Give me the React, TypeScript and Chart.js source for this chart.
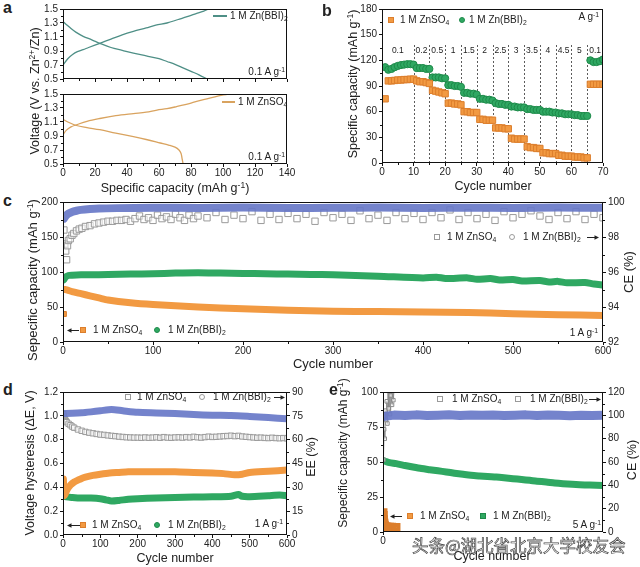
import React, { useEffect, useRef } from 'react';
import { Chart, registerables } from 'chart.js';

Chart.register(...registerables);

const FONT = 'Arial, "Liberation Sans", Helvetica, sans-serif';
const INK = '#222';
const ORANGE = '#F29A42';
const ORANGE_EDGE = '#DC7E2C';
const GREEN = '#2FA862';
const GREEN_EDGE = '#1E8A4A';
const BLUE = 'rgba(104,120,200,0.92)';
const GREY = '#9A9A9A';
const TEAL = '#4E8F86';
const TAN = '#D9A35F';

// ---------------- Panel a : charge / discharge profiles ----------------
const aBbiChargeCap = [0, 3, 6, 9, 12.6, 16, 23, 30, 37, 44, 52, 58, 65, 72, 77.6, 84, 88, 91];
const aBbiChargeV = [0.7, 0.79, 0.85, 0.89, 0.92, 0.95, 1.01, 1.07, 1.13, 1.18, 1.23, 1.27, 1.3, 1.35, 1.39, 1.44, 1.47, 1.5];
const aBbiDischargeCap = [0, 2, 5, 8, 12.6, 18, 23, 30, 37, 44, 52, 60, 65, 70, 75, 80, 85, 90];
const aBbiDischargeV = [1.32, 1.28, 1.22, 1.17, 1.11, 1.06, 1.01, 0.95, 0.91, 0.87, 0.83, 0.79, 0.75, 0.71, 0.66, 0.61, 0.56, 0.5];
const aZnChargeCap = [0, 2, 5, 8.4, 15, 23, 33, 44, 52, 58.7, 65, 71, 80, 86, 95, 103];
const aZnChargeV = [0.92, 0.98, 1.03, 1.06, 1.11, 1.15, 1.19, 1.22, 1.24, 1.27, 1.29, 1.32, 1.37, 1.41, 1.46, 1.5];
const aZnDischargeCap = [0, 3, 8.4, 15, 23, 33, 44, 52, 60.8, 66, 70, 72.5, 73.8, 74.4, 75];
const aZnDischargeV = [1.14, 1.1, 1.05, 1.02, 0.99, 0.94, 0.89, 0.85, 0.8, 0.77, 0.74, 0.7, 0.65, 0.58, 0.51];

// ---------------- Panel b : rate performance ----------------
const bCycles = Array.from({ length: 70 }, (_, i) => i + 1);
const bZnSO4 = [
  75, 96, 96, 96.5, 97, 97, 97.5, 97.5, 98, 98,
  96, 95, 95, 94, 93,
  85, 84, 83, 82, 81,
  70, 70, 69, 69, 68,
  60, 60, 59, 59, 59,
  51, 51, 50, 50, 50,
  41, 41, 41, 40, 40,
  29, 28, 28, 28, 28,
  19, 18, 18, 17, 17,
  12, 12, 11, 11, 11,
  9, 9, 8, 8, 8,
  7, 7, 7, 6, 6,
  92, 92, 92, 92, 92,
];
const bBBI = [
  112, 109, 110, 112, 113.5, 114.5, 115, 115.5, 115.5, 115,
  111, 111, 111, 110, 110,
  100, 100, 100, 99, 99,
  91, 91, 90, 90, 89,
  82, 82, 81, 81, 80,
  75, 75, 74, 74, 73,
  70, 69, 69, 68, 68,
  66, 66, 65, 65, 65,
  63, 63, 62, 62, 62,
  60, 60, 60, 59, 59,
  58, 58, 57, 57, 57,
  56, 56, 55, 55, 55,
  120, 118, 118, 119, 121,
];
const bRateBounds = [0, 10, 15, 20, 25, 30, 35, 40, 45, 50, 55, 60, 65, 70];
const bRateLabels = ['0.1', '0.2', '0.5', '1', '1.5', '2', '2.5', '3', '3.5', '4', '4.5', '5', '0.1'];
const bDashTop = 138;
const bRateLabelY = 131;

// ---------------- Panel c : long cycling at 1 A/g ----------------
const cZnSO4FirstCycle = [1];
const cZnSO4FirstCap = [40];
const cZnSO4CapCycle = [2, 5, 10, 20, 30, 40, 50, 75, 100, 150, 200, 250, 300, 350, 400, 450, 500, 550, 600];
const cZnSO4Cap = [75, 74, 72, 69, 66, 63, 60, 56, 53.5, 50, 47.5, 45.5, 44, 43.5, 43, 42, 40.5, 39, 38];
const cBBICapCycle = [1, 3, 6, 10, 20, 30, 50, 75, 100, 125, 150, 175, 200, 225, 250, 275, 300, 350, 400, 415, 425, 450, 460, 475, 485, 500, 510, 530, 540, 550, 560, 580, 590, 600];
const cBBICap = [89, 93, 95, 95.5, 96, 96, 96.5, 97, 97.5, 98.5, 99, 98.5, 98, 97.5, 97, 96.5, 96, 94, 91.5, 92.6, 90.8, 91.6, 89.6, 90.6, 88.6, 89.2, 87.2, 87.8, 85.8, 86.6, 84.6, 85, 82.8, 81.5];
const cCECycle = [1, 2, 3, 4, 5, 6, 8, 10, 12, 15, 18, 21, 25, 30, 35, 40, 45, 50, 55, 60, 65, 70,
  75, 80, 85, 90, 95, 100, 105, 110, 115, 120, 125, 130, 135, 140, 145, 150, 160, 170, 180, 190, 200, 210, 220, 230, 240, 250, 260, 270, 280, 290, 300,
  310, 320, 330, 340, 350, 360, 370, 380, 390, 400, 410, 420, 430, 440, 450, 460, 470, 480, 490, 500,
  510, 520, 530, 540, 550, 560, 570, 580, 590, 600];
const cZnSO4CE = [98.4, 97.6, 97.2, 96.7, 97.5, 97.8, 97.9, 98.1, 98.2, 98.35, 98.45, 98.5, 98.6, 98.65, 98.75, 98.8, 98.85, 98.9, 98.9, 98.95, 98.95, 99.0,
  98.9, 99.05, 99.2, 99.0, 99.1, 98.95, 99.25, 99.05, 99.15, 99.0, 99.3, 99.1, 98.95, 99.25, 99.05, 99.2,
  99.1, 99.4, 99.0, 99.25, 99.05, 99.45, 98.95, 99.3, 99.0, 99.35, 99.05, 99.3, 98.9, 99.4, 99.1,
  99.3, 98.95, 99.5, 99.05, 99.25, 98.95, 99.4, 99.05, 99.35, 99.0, 99.4, 99.1, 99.55, 99.0, 99.4, 99.05, 99.3, 98.95, 99.45, 99.1,
  99.3, 99.5, 99.2, 99.0, 99.4, 99.05, 99.45, 99.0, 99.3, 99.1];
const cBBICECycle = [1, 3, 6, 10, 15, 20, 30, 40, 60, 100, 150, 200, 250, 300, 350, 400, 450, 500, 550, 600];
const cBBICE = [99.05, 99.2, 99.33, 99.43, 99.5, 99.55, 99.6, 99.63, 99.65, 99.67, 99.66, 99.68, 99.66, 99.67, 99.68, 99.66, 99.67, 99.66, 99.68, 99.67];

// ---------------- Panel d : voltage hysteresis / energy efficiency ----------------
const dBBIEECycle = [1, 25, 50, 75, 100, 130, 160, 200, 250, 300, 350, 400, 450, 500, 550, 600];
const dBBIEE = [76.5, 76.6, 76.9, 77.5, 78.2, 79.0, 78.2, 77.2, 76.8, 76.4, 75.8, 75.4, 75.2, 74.6, 73.9, 73.2];
const dZnSO4EECycle = [1, 2, 4, 6, 8, 10, 15, 20, 25, 30, 40, 50, 60, 70, 80, 90,
  100, 110, 120, 130, 140, 150, 160, 170, 180, 190, 200, 210, 220, 230, 240, 250, 260, 270, 280, 290, 300,
  310, 320, 330, 340, 350, 360, 370, 380, 390, 400, 410, 420, 430, 440, 450, 460, 470, 480, 490, 500,
  510, 520, 530, 540, 550, 560, 570, 580, 590, 600];
const dZnSO4EE = [76.0, 74.5, 73.2, 72.3, 71.6, 71.0, 70.0, 69.1, 68.2, 67.5, 66.4, 65.6, 64.9, 64.4, 64.0, 63.6,
  63.2, 63.0, 62.7, 62.4, 62.2, 61.9, 61.7, 61.5, 61.4, 61.3, 61.3, 61.2, 61.4, 61.2, 61.3, 61.5, 61.2, 61.6, 61.3, 61.2, 61.4,
  61.5, 61.3, 61.6, 61.4, 61.8, 61.5, 61.3, 61.6, 61.9, 61.7, 61.8, 62.0, 62.2, 62.3, 62.5, 62.2, 62.4, 62.0, 61.8, 61.6,
  61.4, 61.2, 61.3, 61.1, 61.0, 61.2, 61.0, 60.9, 61.0, 60.8];
const dZnSO4HysCycle = [1, 3, 6, 10, 15, 20, 30, 40, 50, 60, 80, 100, 125, 150, 175, 200, 250, 300, 350, 400, 430, 460, 480, 500, 550, 600];
const dZnSO4Hys = [0.47, 0.33, 0.345, 0.375, 0.4, 0.42, 0.445, 0.46, 0.475, 0.485, 0.5, 0.51, 0.52, 0.525, 0.53, 0.53, 0.53, 0.53, 0.525, 0.52, 0.515, 0.505, 0.51, 0.525, 0.535, 0.545];
const dBBIHysCycle = [1, 3, 10, 25, 50, 75, 100, 115, 130, 150, 175, 200, 250, 300, 350, 400, 450, 470, 480, 500, 550, 580, 600];
const dBBIHys = [0.35, 0.33, 0.32, 0.315, 0.31, 0.31, 0.305, 0.295, 0.285, 0.29, 0.3, 0.305, 0.31, 0.315, 0.318, 0.32, 0.325, 0.34, 0.325, 0.322, 0.33, 0.335, 0.33];

// ---------------- Panel e : long cycling at 5 A/g ----------------
const eBBICapCycle = [1, 10, 30, 60, 100, 136, 175, 212, 250, 288, 325, 364, 400, 439, 475, 515, 550, 591, 630, 667, 700, 742, 780, 818, 860, 894, 940, 1000];
const eBBICap = [51, 50.5, 49.5, 48.8, 47.5, 46.4, 45.3, 44.5, 43.7, 42.9, 42, 41.2, 40.5, 40, 39.6, 39.3, 38.8, 38.1, 37.5, 36.9, 36.3, 35.7, 35, 34.5, 34.1, 33.8, 33.5, 33.3];
const eBBICECycle = [1, 50, 100, 150, 200, 250, 300, 350, 400, 450, 500, 550, 600, 650, 700, 750, 800, 850, 900, 950, 1000];
const eBBICE = [99.0, 100.2, 99.8, 100.4, 99.9, 100.1, 100.5, 99.8, 100.2, 100.0, 100.3, 99.9, 100.1, 100.4, 99.8, 100.2, 100.0, 99.7, 100.1, 99.9, 100.0];
const eZnSO4CECycle = [2, 5, 8, 11, 14, 17, 20, 23, 26, 29, 32, 35, 38, 41, 44, 47, 50, 53];
const eZnSO4CE = [62, 88, 80, 104, 96, 112, 93, 121, 106, 126, 101, 117, 124, 109, 128, 113, 122, 126];
const eZnSO4CapCycle = [1, 2, 3, 4, 5, 6, 8, 10, 15, 20, 30, 40, 50, 60];
const eZnSO4Cap = [14, 12, 9, 7, 6, 5, 4.5, 4, 3.8, 3.6, 3.5, 3.5, 3.4, 3.4];

// ---------------- helpers ----------------
type Box = { x: number; y: number; w: number; h: number };
type Area = { l: number; t: number; r: number; b: number };

const pts = (xs: number[], ys: number[]) => xs.map((x, i) => ({ x, y: ys[i] }));
const fix1 = (v: number) => v.toFixed(1);

function scaleOpts(kind: 'x' | 'y' | 'y2', spec: any, box: Box, area: Area) {
  const o: any = {
    type: 'linear',
    position: kind === 'x' ? 'bottom' : kind === 'y' ? 'left' : 'right',
    min: spec.min,
    max: spec.max,
    grid: { drawOnChartArea: false, drawTicks: true, tickLength: 3, color: '#111', lineWidth: 1 },
    border: { display: false },
    ticks: {
      stepSize: spec.step,
      display: spec.labels !== false,
      autoSkip: false,
      maxRotation: 0,
      minRotation: 0,
      color: INK,
      font: { family: FONT, size: 10 },
      padding: kind === 'x' ? 0 : 2,
      callback: (v: number) => (spec.fmt ? spec.fmt(v) : String(v)),
    },
    afterFit: (s: any) => {
      if (kind === 'x') s.height = box.y + box.h - area.b;
      else if (kind === 'y') s.width = area.l - box.x;
      else s.width = box.x + box.w - area.r;
    },
  };
  if (spec.only) o.afterBuildTicks = (s: any) => { s.ticks = spec.only.map((v: number) => ({ value: v })); };
  return o;
}

const framePlugin = {
  id: 'frame',
  afterDraw(chart: any) {
    const { ctx, chartArea: a } = chart;
    ctx.save();
    ctx.strokeStyle = '#111';
    ctx.lineWidth = 1;
    ctx.strokeRect(Math.round(a.left) + 0.5, Math.round(a.top) + 0.5, Math.round(a.right - a.left) - 1, Math.round(a.bottom - a.top) - 1);
    ctx.restore();
  },
};

const minorPlugin = {
  id: 'minor',
  afterDraw(chart: any) {
    const { ctx, chartArea: a } = chart;
    ctx.save();
    ctx.strokeStyle = '#111';
    ctx.lineWidth = 1;
    Object.values(chart.scales).forEach((s: any) => {
      const t = s.ticks;
      for (let i = 0; i < t.length - 1; i++) {
        const p = Math.round(s.getPixelForValue((t[i].value + t[i + 1].value) / 2)) + 0.5;
        ctx.beginPath();
        if (s.axis === 'x') { ctx.moveTo(p, a.bottom); ctx.lineTo(p, a.bottom + 2); }
        else if (s.position === 'left') { ctx.moveTo(a.left - 2, p); ctx.lineTo(a.left, p); }
        else { ctx.moveTo(a.right, p); ctx.lineTo(a.right + 2, p); }
        ctx.stroke();
      }
    });
    ctx.restore();
  },
};

const ratePlugin = {
  id: 'rates',
  beforeDatasetsDraw(chart: any) {
    const { ctx, scales: { x, y } } = chart;
    ctx.save();
    ctx.setLineDash([2, 2]);
    ctx.strokeStyle = '#333';
    ctx.lineWidth = 0.8;
    bRateBounds.slice(1, -1).forEach((c) => {
      const px = Math.round(x.getPixelForValue(c)) + 0.5;
      ctx.beginPath();
      ctx.moveTo(px, y.getPixelForValue(0));
      ctx.lineTo(px, y.getPixelForValue(bDashTop));
      ctx.stroke();
    });
    ctx.setLineDash([]);
    ctx.fillStyle = INK;
    ctx.font = `8.5px ${FONT}`;
    ctx.textAlign = 'center';
    ctx.textBaseline = 'middle';
    bRateLabels.forEach((t, i) => {
      const mid = (bRateBounds[i] + bRateBounds[i + 1]) / 2;
      ctx.fillText(t, x.getPixelForValue(mid), y.getPixelForValue(bRateLabelY));
    });
    ctx.restore();
  },
};

function makeConfig(box: Box, area: Area, datasets: any[], scales: any, extra: any[] = []) {
  return {
    type: 'scatter',
    data: { datasets },
    options: {
      responsive: false,
      maintainAspectRatio: false,
      animation: false,
      devicePixelRatio: 1,
      events: [],
      layout: { padding: { top: area.t - box.y, left: 0, bottom: 0, right: scales.y2 ? 0 : box.x + box.w - area.r } },
      plugins: { legend: { display: false }, tooltip: { enabled: false } },
      scales,
    },
    plugins: [framePlugin, minorPlugin, ...extra],
  };
}

const band = (xs: number[], ys: number[], color: string, width: number, yAxisID = 'y', tension = 0.25) => ({
  data: pts(xs, ys), showLine: true, borderColor: color, borderWidth: width, pointRadius: 0,
  tension, borderCapStyle: 'round', borderJoinStyle: 'round', yAxisID,
});
const marks = (xs: number[], ys: number[], style: string, r: number, fill: string, edge: string, yAxisID = 'y') => ({
  data: pts(xs, ys), showLine: false, pointStyle: style, pointRadius: r,
  backgroundColor: fill, borderColor: edge, borderWidth: 1, yAxisID,
});

function ChartCanvas({ box, make }: { box: Box; make: () => any }) {
  const ref = useRef<HTMLCanvasElement>(null);
  useEffect(() => {
    const chart = new Chart(ref.current as HTMLCanvasElement, make());
    return () => chart.destroy();
  }, []);
  return (
    <canvas ref={ref} width={box.w} height={box.h}
      style={{ position: 'absolute', left: box.x, top: box.y, width: box.w, height: box.h }} />
  );
}

// ---------------- chart layouts ----------------
const boxA1: Box = { x: 28, y: 0, w: 282, h: 87 };
const areaA1: Area = { l: 63, t: 9, r: 287, b: 79 };
const boxA2: Box = { x: 28, y: 86, w: 282, h: 97 };
const areaA2: Area = { l: 63, t: 94, r: 287, b: 164 };
const boxB: Box = { x: 330, y: 0, w: 300, h: 180 };
const areaB: Area = { l: 382, t: 9, r: 603, b: 163 };
const boxC: Box = { x: 28, y: 190, w: 604, h: 170 };
const areaC: Area = { l: 63, t: 202, r: 603, b: 342 };
const boxD: Box = { x: 28, y: 380, w: 287, h: 172 };
const areaD: Area = { l: 63, t: 392, r: 287, b: 535 };
const boxE: Box = { x: 340, y: 380, w: 292, h: 170 };
const areaE: Area = { l: 383, t: 392, r: 603, b: 532 };

const makeA1 = () => makeConfig(boxA1, areaA1, [
  band(aBbiChargeCap, aBbiChargeV, TEAL, 1.3, 'y', 0.35),
  band(aBbiDischargeCap, aBbiDischargeV, TEAL, 1.3, 'y', 0.35),
], {
  x: scaleOpts('x', { min: 0, max: 140, step: 20, labels: false }, boxA1, areaA1),
  y: scaleOpts('y', { min: 0.5, max: 1.5, step: 0.2, fmt: fix1 }, boxA1, areaA1),
});

const makeA2 = () => makeConfig(boxA2, areaA2, [
  band(aZnChargeCap, aZnChargeV, TAN, 1.3, 'y', 0.35),
  band(aZnDischargeCap, aZnDischargeV, TAN, 1.3, 'y', 0.35),
], {
  x: scaleOpts('x', { min: 0, max: 140, step: 20 }, boxA2, areaA2),
  y: scaleOpts('y', { min: 0.5, max: 1.5, step: 0.2, fmt: fix1 }, boxA2, areaA2),
});

const makeB = () => makeConfig(boxB, areaB, [
  marks(bCycles, bZnSO4, 'rect', 4.5, ORANGE, ORANGE_EDGE),
  marks(bCycles, bBBI, 'circle', 3.6, GREEN, GREEN_EDGE),
], {
  x: scaleOpts('x', { min: 0, max: 70, step: 10 }, boxB, areaB),
  y: scaleOpts('y', { min: 0, max: 180, step: 30 }, boxB, areaB),
}, [ratePlugin]);

const makeC = () => makeConfig(boxC, areaC, [
  band(cBBICECycle, cBBICE, BLUE, 8, 'y2'),
  marks(cCECycle, cZnSO4CE, 'rect', 4.5, 'rgba(255,255,255,0.55)', GREY, 'y2'),
  band(cBBICapCycle, cBBICap, GREEN, 7),
  band(cZnSO4CapCycle, cZnSO4Cap, ORANGE, 7),
  marks(cZnSO4FirstCycle, cZnSO4FirstCap, 'rect', 3.5, ORANGE, ORANGE_EDGE),
], {
  x: scaleOpts('x', { min: 0, max: 600, step: 100 }, boxC, areaC),
  y: scaleOpts('y', { min: 0, max: 200, step: 50 }, boxC, areaC),
  y2: scaleOpts('y2', { min: 92, max: 100, step: 2 }, boxC, areaC),
});

const makeD = () => makeConfig(boxD, areaD, [
  band(dBBIEECycle, dBBIEE, BLUE, 7, 'y2'),
  marks(dZnSO4EECycle, dZnSO4EE, 'rect', 3.8, 'rgba(255,255,255,0.6)', GREY, 'y2'),
  band(dZnSO4HysCycle, dZnSO4Hys, ORANGE, 7),
  band(dBBIHysCycle, dBBIHys, GREEN, 7),
], {
  x: scaleOpts('x', { min: 0, max: 600, step: 100 }, boxD, areaD),
  y: scaleOpts('y', { min: 0, max: 1.2, step: 0.2, fmt: fix1 }, boxD, areaD),
  y2: scaleOpts('y2', { min: 0, max: 90, step: 15 }, boxD, areaD),
});

const makeE = () => makeConfig(boxE, areaE, [
  band(eBBICECycle, eBBICE, BLUE, 9, 'y2', 0),
  { ...marks(eZnSO4CECycle, eZnSO4CE, 'rect', 2.5, 'rgba(255,255,255,0.5)', '#8A8A8A', 'y2'), showLine: true, borderWidth: 1 },
  band(eBBICapCycle, eBBICap, GREEN, 7),
  { ...marks(eZnSO4CapCycle, eZnSO4Cap, 'rect', 3.2, ORANGE, ORANGE_EDGE), showLine: true, borderWidth: 4, tension: 0.2 },
], {
  x: scaleOpts('x', { min: 0, max: 1000, step: 200, only: [0] }, boxE, areaE),
  y: scaleOpts('y', { min: 0, max: 100, step: 25 }, boxE, areaE),
  y2: scaleOpts('y2', { min: 0, max: 120, step: 20 }, boxE, areaE),
});

// ---------------- overlay text helpers ----------------
const Sub = ({ children }: any) => <span style={{ fontSize: '0.68em', position: 'relative', top: '0.3em' }}>{children}</span>;
const Sup = ({ children }: any) => <span style={{ fontSize: '0.68em', position: 'relative', top: '-0.45em' }}>{children}</span>;

function Tx({ x, y, s = 10, a = 'l', rot = false, b = false, f, c, st, children }: any) {
  const tx = rot ? '-50%' : a === 'l' ? '0%' : a === 'c' ? '-50%' : '-100%';
  return (
    <div style={{
      position: 'absolute', left: x, top: y, fontSize: s, fontWeight: b ? 700 : 400,
      fontFamily: f || FONT, color: c || INK, lineHeight: 1, whiteSpace: 'nowrap',
      transform: `translate(${tx},-50%)${rot ? ' rotate(-90deg)' : ''}`, ...(st || {}),
    }}>{children}</div>
  );
}

function Mk({ x, y, kind, fill, edge, s = 6 }: any) {
  return (
    <div style={{
      position: 'absolute', left: x - s / 2, top: y - s / 2, width: s, height: s, boxSizing: 'border-box',
      background: fill, border: `1px solid ${edge}`, borderRadius: kind === 'circle' ? '50%' : 0,
    }} />
  );
}

function Ln({ x1, x2, y, color }: any) {
  return <div style={{ position: 'absolute', left: x1, top: y - 0.6, width: x2 - x1, height: 1.2, background: color }} />;
}

function Arrow({ from, to, y }: any) {
  const left = Math.min(from, to) - 1;
  const w = Math.abs(to - from) + 2;
  const dir = to > from ? 1 : -1;
  const tx = to - left;
  const fx = from - left;
  return (
    <svg width={w} height={7} style={{ position: 'absolute', left, top: y - 3.5 }}>
      <line x1={fx} y1={3.5} x2={tx - dir * 3} y2={3.5} stroke={INK} strokeWidth={1} />
      <polygon points={`${tx},3.5 ${tx - dir * 4.5},1.2 ${tx - dir * 4.5},5.8`} fill={INK} />
    </svg>
  );
}

const ZnSO4 = () => <>1 M ZnSO<Sub>4</Sub></>;
const ZnBBI = () => <>1 M Zn(BBI)<Sub>2</Sub></>;
const Ag = ({ n }: any) => <>{n}A g<Sup>-1</Sup></>;
const CapTitle = ({ word }: any) => <>{word} capacity (mAh g<Sup>-1</Sup>)</>;

export default function App() {
  return (
    <div style={{ position: 'absolute', left: 0, top: 0, width: 640, height: 567, background: '#fff', overflow: 'hidden', fontFamily: FONT, color: INK }}>
      <ChartCanvas box={boxA1} make={makeA1} />
      <ChartCanvas box={boxA2} make={makeA2} />
      <ChartCanvas box={boxB} make={makeB} />
      <ChartCanvas box={boxC} make={makeC} />
      <ChartCanvas box={boxD} make={makeD} />
      <ChartCanvas box={boxE} make={makeE} />

      {/* panel letters */}
      <Tx x={3} y={7.5} s={16} b>a</Tx>
      <Tx x={322} y={11} s={16} b>b</Tx>
      <Tx x={3} y={201} s={16} b>c</Tx>
      <Tx x={3} y={390} s={16} b>d</Tx>
      <Tx x={329} y={389.5} s={16} b>e</Tx>

      {/* panel a */}
      <Tx x={35} y={91} s={12.5} rot>Voltage (V vs. Zn<Sup>2+</Sup>/Zn)</Tx>
      <Tx x={175} y={188} s={12.5} a="c"><CapTitle word="Specific" /></Tx>
      <Ln x1={213} x2={227} y={16} color={TEAL} />
      <Tx x={230} y={16}><ZnBBI /></Tx>
      <Tx x={285} y={72} a="r"><Ag n="0.1 " /></Tx>
      <Ln x1={222} x2={235} y={102} color={TAN} />
      <Tx x={238} y={102}><ZnSO4 /></Tx>
      <Tx x={285} y={157} a="r"><Ag n="0.1 " /></Tx>

      {/* panel b */}
      <Tx x={353} y={84} s={12.5} rot><CapTitle word="Specific" /></Tx>
      <Tx x={493} y={186} s={12.5} a="c">Cycle number</Tx>
      <Mk x={391} y={20} kind="rect" fill={ORANGE} edge={ORANGE_EDGE} />
      <Tx x={400} y={20}><ZnSO4 /></Tx>
      <Mk x={462} y={20} kind="circle" fill={GREEN} edge={GREEN_EDGE} />
      <Tx x={469} y={20}><ZnBBI /></Tx>
      <Tx x={599} y={17} a="r"><Ag n="" /></Tx>

      {/* panel c */}
      <Tx x={32} y={280} s={13} rot><CapTitle word="Sepecific" /></Tx>
      <Tx x={628} y={272} s={13} rot>CE (%)</Tx>
      <Tx x={333} y={363} s={13} a="c">Cycle number</Tx>
      <Mk x={437} y={237} kind="rect" fill="#fff" edge={GREY} />
      <Tx x={447} y={237}><ZnSO4 /></Tx>
      <Mk x={512} y={237} kind="circle" fill="#fff" edge={GREY} />
      <Tx x={523} y={237}><ZnBBI /></Tx>
      <Arrow from={587} to={599} y={237} />
      <Arrow from={79} to={67} y={330} />
      <Mk x={83} y={330} kind="rect" fill={ORANGE} edge={ORANGE_EDGE} />
      <Tx x={93} y={330}><ZnSO4 /></Tx>
      <Mk x={157} y={330} kind="circle" fill={GREEN} edge={GREEN_EDGE} />
      <Tx x={168} y={330}><ZnBBI /></Tx>
      <Tx x={598} y={333} a="r"><Ag n="1 " /></Tx>

      {/* panel d */}
      <Tx x={30} y={463} s={12.5} rot>Voltage hysteresis (ΔE, V)</Tx>
      <Tx x={311} y={457} s={12.5} rot>EE (%)</Tx>
      <Tx x={175} y={558} s={12.5} a="c">Cycle number</Tx>
      <Mk x={128} y={397} kind="rect" fill="#fff" edge={GREY} />
      <Tx x={137} y={397}><ZnSO4 /></Tx>
      <Mk x={202} y={397} kind="circle" fill="#fff" edge={GREY} />
      <Tx x={213} y={397}><ZnBBI /></Tx>
      <Arrow from={274} to={285} y={397} />
      <Arrow from={80} to={67} y={525} />
      <Mk x={83} y={525} kind="rect" fill={ORANGE} edge={ORANGE_EDGE} />
      <Tx x={92} y={525}><ZnSO4 /></Tx>
      <Mk x={157} y={525} kind="circle" fill={GREEN} edge={GREEN_EDGE} />
      <Tx x={168} y={525}><ZnBBI /></Tx>
      <Tx x={283} y={524} a="r"><Ag n="1 " /></Tx>

      {/* panel e */}
      <Tx x={343} y={453} s={12} rot><CapTitle word="Sepecific" /></Tx>
      <Tx x={632} y={460} s={12.5} rot>CE (%)</Tx>
      <Tx x={492} y={556} s={12.5} a="c">Cycle number</Tx>
      <Mk x={440} y={399} kind="rect" fill="#fff" edge={GREY} />
      <Tx x={452} y={399}><ZnSO4 /></Tx>
      <Mk x={518} y={399} kind="rect" fill="#fff" edge={GREY} />
      <Tx x={530} y={399}><ZnBBI /></Tx>
      <Arrow from={589} to={601} y={399} />
      <Arrow from={402} to={390} y={516} />
      <Mk x={410} y={516} kind="rect" fill={ORANGE} edge={ORANGE_EDGE} />
      <Tx x={420} y={516}><ZnSO4 /></Tx>
      <Mk x={483} y={516} kind="rect" fill={GREEN} edge={GREEN_EDGE} />
      <Tx x={493} y={516}><ZnBBI /></Tx>
      <Tx x={601} y={525} a="r"><Ag n="5 " /></Tx>

      {/* watermark */}
      <Tx x={412} y={545} s={16.5} f='"Noto Sans CJK SC", sans-serif' c="#fff"
        st={{ WebkitTextStroke: '0.7px #444' }}>头条@湖北省北京大学校友会</Tx>
    </div>
  );
}
